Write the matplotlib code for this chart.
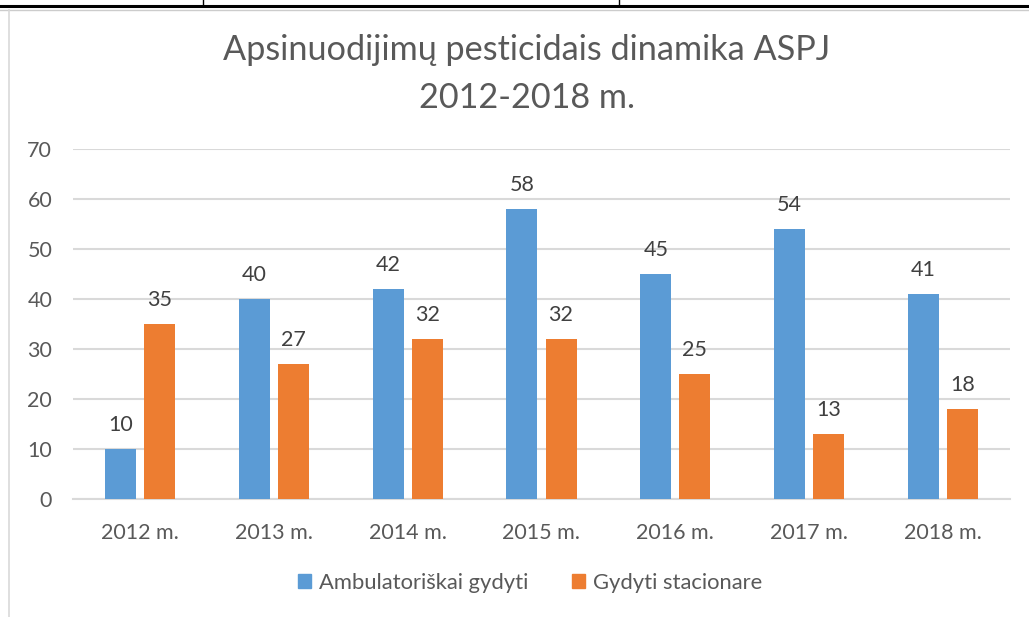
import matplotlib
matplotlib.use("Agg")
import matplotlib.pyplot as plt
import numpy as np
from matplotlib.lines import Line2D
from matplotlib.patches import Patch

categories = ["2012 m.", "2013 m.", "2014 m.", "2015 m.", "2016 m.", "2017 m.", "2018 m."]
ambulatoriskai = [10, 40, 42, 58, 45, 54, 41]
stacionare = [35, 27, 32, 32, 25, 13, 18]
series_names = ["Ambulatoriškai gydyti", "Gydyti stacionare"]
title = "Apsinuodijimų pesticidais dinamika ASPJ\n2012-2018 m."
yticks = [0, 10, 20, 30, 40, 50, 60, 70]

BLUE = "#5B9BD5"
ORANGE = "#ED7D31"
TXT = "#595959"
GRID = "#D9D9D9"

plt.rcParams['font.family'] = ['Lato', 'DejaVu Sans']

W, H = 1029, 617
fig = plt.figure(figsize=(W / 100, H / 100), dpi=100)
ax = fig.add_axes([73 / W, 1 - 499 / H, (1010 - 73) / W, (499 - 149) / H])

x = np.arange(len(categories))
bw = 0.232
gap = 0.06
off = (bw + gap) / 2
b1 = ax.bar(x - off, ambulatoriskai, bw, color=BLUE, zorder=3)
b2 = ax.bar(x + off, stacionare, bw, color=ORANGE, zorder=3)

for bars, vals in ((b1, ambulatoriskai), (b2, stacionare)):
    for r, v in zip(bars, vals):
        ax.annotate(str(v), (r.get_x() + r.get_width() / 2, v), xytext=(0, 10),
                    textcoords="offset points", ha="center", va="bottom",
                    fontsize=15.5, color="#404040")

ax.set_xlim(-0.5, len(categories) - 0.5)
ax.set_ylim(0, 70)
ax.set_yticks(yticks)
ax.set_xticks(x)
ax.set_xticklabels(categories)
ax.tick_params(axis="both", length=0, labelsize=15.5, labelcolor=TXT)
ax.tick_params(axis="x", pad=17)
ax.tick_params(axis="y", pad=15)
ax.grid(axis="y", color=GRID, linewidth=1.5, zorder=0)
for s in ("top", "right", "left"):
    ax.spines[s].set_visible(False)
ax.spines["bottom"].set_color(GRID)
ax.spines["bottom"].set_linewidth(1.5)

fig.text(527 / W, 1 - 74 / H, title, ha="center", va="center",
         fontsize=24.7, color=TXT, linespacing=1.58)

handles = [Patch(color=BLUE), Patch(color=ORANGE)]
leg = fig.legend(handles, series_names, loc="center", bbox_to_anchor=(530 / W, 1 - 583 / H),
                 ncol=2, frameon=False, fontsize=15.8, handlelength=0.6, handleheight=0.6,
                 handletextpad=0.35, columnspacing=2.0)
for t in leg.get_texts():
    t.set_color(TXT)

# page decorations
fig.add_artist(Line2D([0, 1], [1 - 6 / H, 1 - 6 / H], color="black", linewidth=2.2))
fig.add_artist(Line2D([0, 1], [1 - 9.5 / H, 1 - 9.5 / H], color="#CCCCCC", linewidth=1))
for xv in (203, 619):
    fig.add_artist(Line2D([xv / W, xv / W], [1 - 6 / H, 1], color="black", linewidth=1))
fig.add_artist(Line2D([9 / W, 9 / W], [0, 1 - 10 / H], color="#D9D9D9", linewidth=1.2))

fig.savefig("out.png", dpi=100)
